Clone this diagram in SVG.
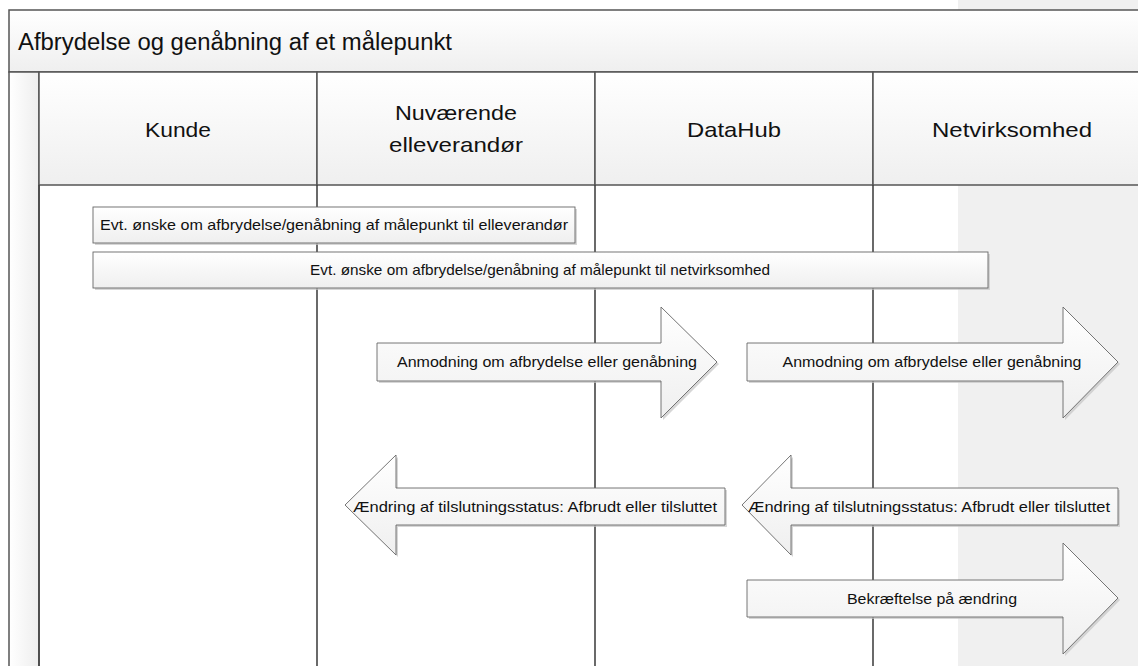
<svg xmlns="http://www.w3.org/2000/svg" width="1138" height="666" viewBox="0 0 1138 666">
<defs>
<linearGradient id="gv" x1="0" y1="0" x2="0" y2="1"><stop offset="0" stop-color="#ffffff"/><stop offset="1" stop-color="#efefef"/></linearGradient>
<linearGradient id="gh" x1="0" y1="0" x2="1" y2="0"><stop offset="0" stop-color="#ffffff"/><stop offset="1" stop-color="#eeeeee"/></linearGradient>
</defs>
<style>
text{font-family:"Liberation Sans",Arial,sans-serif;fill:#111}
.t{font-size:23px}
.h{font-size:21px;text-anchor:middle}
.m{font-size:14.5px;text-anchor:middle}
.frame{stroke:#555;stroke-width:1.5;fill:url(#gv)}
.lane{stroke:#444;stroke-width:1.6;fill:none}
.shape{fill:url(#gv);stroke:#666;stroke-width:0.9}
.shadow{fill:#c4c4c4;opacity:0.7}
</style>
<rect x="958" y="0" width="180" height="666" fill="#f0f0f0"/>
<g id="pool">
<rect class="frame" x="9" y="10" width="1140" height="62"/>
<text class="t" x="18" y="50" textLength="434" lengthAdjust="spacingAndGlyphs">Afbrydelse og genåbning af et målepunkt</text>
<rect x="9" y="72" width="30" height="600" fill="url(#gh)" stroke="#555" stroke-width="1.5"/>
</g>
<g id="lane-kunde">
<rect class="frame" x="39" y="72" width="278" height="113"/>
<text class="h" x="178" y="137" textLength="66" lengthAdjust="spacingAndGlyphs">Kunde</text>
</g>
<g id="lane-elleverandor">
<rect class="frame" x="317" y="72" width="278" height="113"/>
<text class="h" x="456" y="120" textLength="122" lengthAdjust="spacingAndGlyphs">Nuværende</text>
<text class="h" x="456" y="152" textLength="134" lengthAdjust="spacingAndGlyphs">elleverandør</text>
</g>
<g id="lane-datahub">
<rect class="frame" x="595" y="72" width="278" height="113"/>
<text class="h" x="734" y="137" textLength="94" lengthAdjust="spacingAndGlyphs">DataHub</text>
</g>
<g id="lane-netvirksomhed">
<rect class="frame" x="873" y="72" width="278" height="113"/>
<text class="h" x="1012" y="137" textLength="160" lengthAdjust="spacingAndGlyphs">Netvirksomhed</text>
</g>
<g id="lanes">
<line class="lane" x1="39" y1="185" x2="39" y2="666"/>
<line class="lane" x1="317" y1="185" x2="317" y2="666"/>
<line class="lane" x1="595" y1="185" x2="595" y2="666"/>
<line class="lane" x1="873" y1="185" x2="873" y2="666"/>
</g>
<g id="connectors">
<g id="msg1">
<rect class="shadow" x="95" y="209" width="482" height="36"/>
<rect class="shape" x="93" y="207" width="482" height="36"/>
<text class="m" x="334" y="230" textLength="468" lengthAdjust="spacingAndGlyphs">Evt. ønske om afbrydelse/genåbning af målepunkt til elleverandør</text>
</g>
<g id="msg2">
<rect class="shadow" x="95" y="254" width="895" height="36"/>
<rect class="shape" x="93" y="252" width="895" height="36"/>
<text class="m" x="540" y="275" textLength="460" lengthAdjust="spacingAndGlyphs">Evt. ønske om afbrydelse/genåbning af målepunkt til netvirksomhed</text>
</g>
<g id="arrow1">
<path class="shadow" d="M379,345 H663 V309 L719,364 L663,420 V383 H379 Z"/>
<path class="shape" d="M377,343 H661 V307 L717,362 L661,418 V381 H377 Z"/>
<text class="m" x="547" y="367" textLength="300" lengthAdjust="spacingAndGlyphs">Anmodning om afbrydelse eller genåbning</text>
</g>
<g id="arrow2">
<path class="shadow" d="M749,345 H1065 V309 L1120,364 L1065,420 V383 H749 Z"/>
<path class="shape" d="M747,343 H1063 V307 L1118,362 L1063,418 V381 H747 Z"/>
<text class="m" x="932" y="367" textLength="299" lengthAdjust="spacingAndGlyphs">Anmodning om afbrydelse eller genåbning</text>
</g>
<g id="arrow3">
<path class="shadow" d="M727,490 H398 V457 L347,507 L398,557 V527 H727 Z"/>
<path class="shape" d="M725,488 H396 V455 L345,505 L396,555 V525 H725 Z"/>
<text class="m" x="535" y="512" textLength="364" lengthAdjust="spacingAndGlyphs">Ændring af tilslutningsstatus: Afbrudt eller tilsluttet</text>
</g>
<g id="arrow4">
<path class="shadow" d="M1120,490 H793 V457 L744,507 L793,557 V527 H1120 Z"/>
<path class="shape" d="M1118,488 H791 V455 L742,505 L791,555 V525 H1118 Z"/>
<text class="m" x="929" y="512" textLength="362" lengthAdjust="spacingAndGlyphs">Ændring af tilslutningsstatus: Afbrudt eller tilsluttet</text>
</g>
<g id="arrow5">
<path class="shadow" d="M749,582 H1065 V545 L1120,600 L1065,656 V619 H749 Z"/>
<path class="shape" d="M747,580 H1063 V543 L1118,598 L1063,654 V617 H747 Z"/>
<text class="m" x="932" y="604" textLength="170" lengthAdjust="spacingAndGlyphs">Bekræftelse på ændring</text>
</g>
</g>
</svg>
